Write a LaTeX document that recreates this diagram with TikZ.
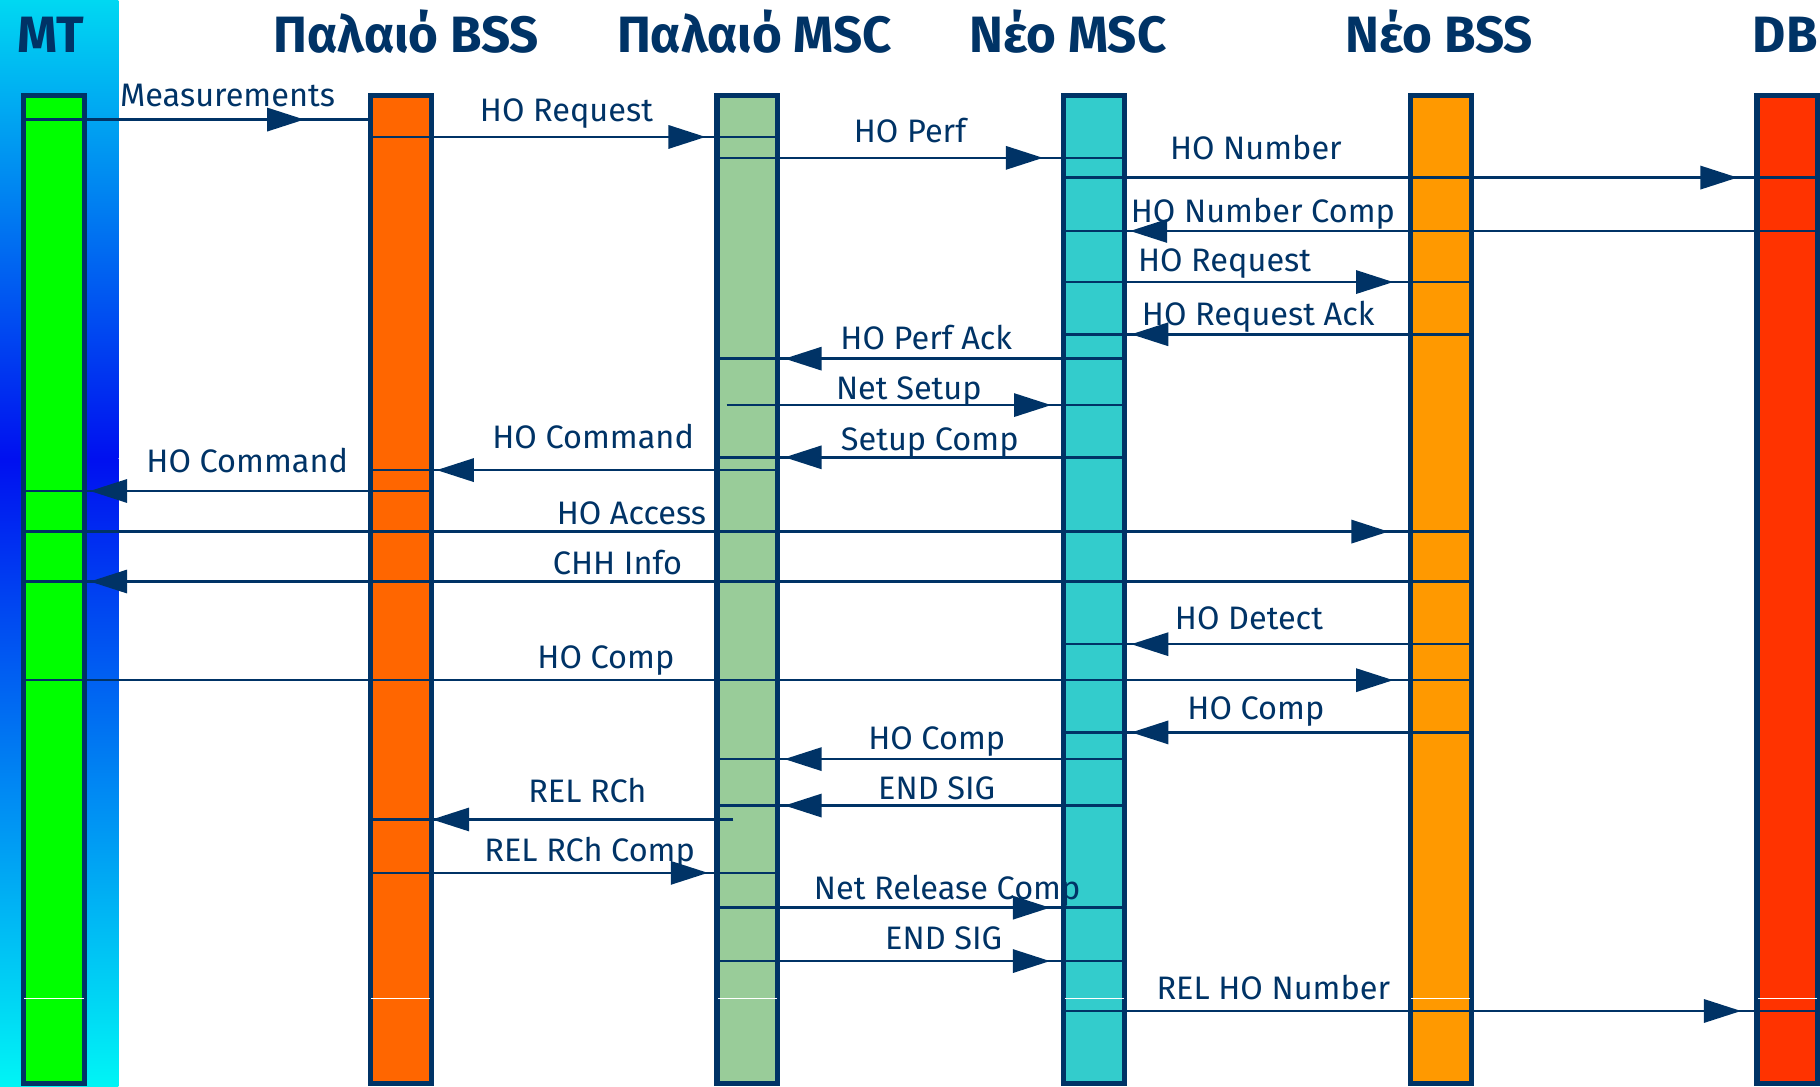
\documentclass[tikz,border=0pt]{standalone}
\usepackage{fontspec}
\setmainfont{Fira Sans}
\usetikzlibrary{arrows.meta,decorations.markings}
\definecolor{navy}{HTML}{003366}
\definecolor{bandtop}{HTML}{00D8F2}
\definecolor{bandmid}{HTML}{0010F0}
\definecolor{bandbot}{HTML}{00F5F5}
\definecolor{mtgreen}{HTML}{00FF00}
\definecolor{obssorange}{HTML}{FF6600}
\definecolor{omscgreen}{HTML}{99CC99}
\definecolor{nmsccyan}{HTML}{33CCCC}
\definecolor{nbssorange}{HTML}{FF9900}
\definecolor{dbred}{HTML}{FF3300}
\begin{document}
\begin{tikzpicture}[x=1pt,y=-1pt,
  lifeline/.style={draw=navy, line width=4.5pt, minimum width=52.5pt, minimum height=851.5pt, inner sep=0pt},
  title/.style={font=\bfseries\fontsize{44}{48}\selectfont, text=navy, anchor=base, inner sep=0pt},
  lbl/.style={font=\fontsize{28}{30}\selectfont, text=navy, anchor=base, inner sep=0pt},
  msg/.style={draw=navy, line width=2.2pt, shorten <=-24pt, shorten >=-24pt, postaction={decorate}},
  headat/.style={decoration={markings, mark=at position -#1pt with {\arrow{Triangle[length=32pt,width=20pt]}}}}]
\useasboundingbox (0,0) rectangle (1568,936);
\shade [top color=bandtop, bottom color=bandmid] (0,0) rectangle (102,395);
\shade [top color=bandmid, bottom color=bandbot] (0,395) rectangle (102,936);
\node [lifeline, fill=mtgreen] (mt) at (46.5,508) {};
\node [lifeline, fill=obssorange] (obss) at (345.2,508) {};
\node [lifeline, fill=omscgreen] (omsc) at (643.9,508) {};
\node [lifeline, fill=nmsccyan] (nmsc) at (942.6,508) {};
\node [lifeline, fill=nbssorange] (nbss) at (1241.3,508) {};
\node [lifeline, fill=dbred] (db) at (1540,508) {};
\draw [white, line width=0.8pt] (mt.west |- 0,860) ++(3,0) -- ([xshift=-3pt]mt.east |- 0,860);
\draw [white, line width=0.8pt] (obss.west |- 0,860) ++(3,0) -- ([xshift=-3pt]obss.east |- 0,860);
\draw [white, line width=0.8pt] (omsc.west |- 0,860) ++(3,0) -- ([xshift=-3pt]omsc.east |- 0,860);
\draw [white, line width=0.8pt] (nmsc.west |- 0,860) ++(3,0) -- ([xshift=-3pt]nmsc.east |- 0,860);
\draw [white, line width=0.8pt] (nbss.west |- 0,860) ++(3,0) -- ([xshift=-3pt]nbss.east |- 0,860);
\draw [white, line width=0.8pt] (db.west |- 0,860) ++(3,0) -- ([xshift=-3pt]db.east |- 0,860);
\node [title] (tmt) at (44,45) {MT};
\node [title] (tobss) at (350,45) {Παλαιό BSS};
\node [title] (tomsc) at (650,45) {Παλαιό MSC};
\node [title] (tnmsc) at (920,45) {Νέο MSC};
\node [title] (tnbss) at (1240,45) {Νέο BSS};
\node [title] (tdb) at (1538,45) {DB};
\draw [msg, shorten >=28pt, headat=83] (mt.center |- 0,103) -- (obss.center |- 0,103);
\node [lbl] (l1) at (196,92) {Measurements};
\draw [msg, headat=36] (obss.center |- 0,118) -- (omsc.center |- 0,118);
\node [lbl] (l2) at (488,105) {HO Request};
\draw [msg, headat=44] (omsc.center |- 0,136) -- (nmsc.center |- 0,136);
\node [lbl] (l3) at (784,123) {HO Perf};
\draw [msg, headat=43] (nmsc.center |- 0,153) -- (db.center |- 0,153);
\node [lbl] (l4) at (1082,137) {HO Number};
\draw [msg, headat=31] (db.center |- 0,199) -- (nmsc.center |- 0,199);
\node [lbl] (l5) at (1088,192) {HO Number Comp};
\draw [msg, headat=41] (nmsc.center |- 0,243) -- (nbss.center |- 0,243);
\node [lbl] (l6) at (1055,234) {HO Request};
\draw [msg, headat=32] (nbss.center |- 0,288) -- (nmsc.center |- 0,288);
\node [lbl] (l7) at (1084,280) {HO Request Ack};
\draw [msg, headat=32] (nmsc.center |- 0,309) -- (omsc.center |- 0,309);
\node [lbl] (l8) at (798,301) {HO Perf Ack};
\draw [msg, shorten <=-18pt, headat=37] (omsc.center |- 0,349) -- (nmsc.center |- 0,349);
\node [lbl] (l9) at (783,344) {Net Setup};
\draw [msg, headat=32] (nmsc.center |- 0,394) -- (omsc.center |- 0,394);
\node [lbl] (l10) at (801,388) {Setup Comp};
\draw [msg, headat=31] (omsc.center |- 0,405) -- (obss.center |- 0,405);
\node [lbl] (l11) at (511,386) {HO Command};
\draw [msg, headat=31] (obss.center |- 0,423) -- (mt.center |- 0,423);
\node [lbl] (l12) at (213,407) {HO Command};
\draw [msg, headat=45] (mt.center |- 0,458) -- (nbss.center |- 0,458);
\node [lbl] (l13) at (544,452) {HO Access};
\draw [msg, headat=31] (nbss.center |- 0,501) -- (mt.center |- 0,501);
\node [lbl] (l14) at (532,495) {CHH Info};
\draw [msg, headat=32] (nbss.center |- 0,555) -- (nmsc.center |- 0,555);
\node [lbl] (l15) at (1076,542) {HO Detect};
\draw [msg, headat=41] (mt.center |- 0,586) -- (nbss.center |- 0,586);
\node [lbl] (l16) at (522,576) {HO Comp};
\draw [msg, headat=32] (nbss.center |- 0,631) -- (nmsc.center |- 0,631);
\node [lbl] (l17) at (1082,620) {HO Comp};
\draw [msg, headat=32] (nmsc.center |- 0,654) -- (omsc.center |- 0,654);
\node [lbl] (l18) at (807,646) {HO Comp};
\draw [msg, headat=32] (nmsc.center |- 0,694) -- (omsc.center |- 0,694);
\node [lbl] (l19) at (807,689) {END SIG};
\draw [msg, shorten <=12pt, headat=27] (omsc.center |- 0,706) -- (obss.center |- 0,706);
\node [lbl] (l20) at (506,691) {REL RCh};
\draw [msg, headat=34] (obss.center |- 0,752) -- (omsc.center |- 0,752);
\node [lbl] (l21) at (508,742) {REL RCh Comp};
\draw [msg, headat=38] (omsc.center |- 0,782) -- (nmsc.center |- 0,782);
\node [lbl] (l22) at (816,775) {Net Release Comp};
\draw [msg, headat=38] (omsc.center |- 0,828) -- (nmsc.center |- 0,828);
\node [lbl] (l23) at (813,818) {END SIG};
\draw [msg, headat=40] (nmsc.center |- 0,871) -- (db.center |- 0,871);
\node [lbl] (l24) at (1097,861) {REL HO Number};
\end{tikzpicture}
\end{document}
